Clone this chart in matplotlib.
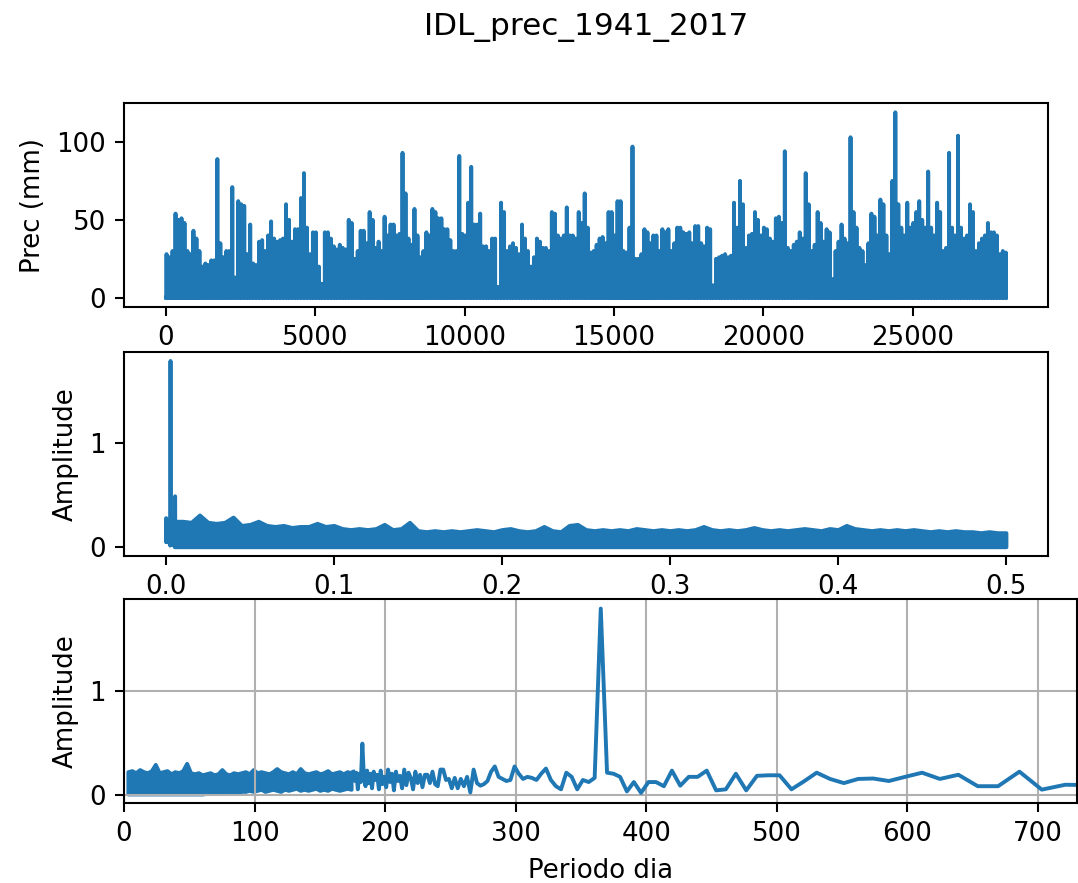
import numpy as np
import matplotlib.pyplot as plt

# daily record length (1941-01-01 .. 2017-12-31)
n_days = 28124

# highest daily rain (mm) read in each 100-day window
prec_day = np.arange(20, n_days, 100)
prec_mm = [
    28, 26, 30, 54, 50, 51, 48, 30, 28, 43,
    38, 30, 20, 22, 21, 24, 24, 89, 35, 26,
    30, 30, 71, 13, 62, 60, 59, 28, 47, 22,
    21, 36, 37, 30, 40, 49, 38, 36, 37, 38,
    60, 50, 36, 44, 44, 64, 80, 45, 28, 42,
    42, 20, 9, 42, 42, 38, 33, 31, 34, 32,
    31, 50, 48, 25, 30, 43, 43, 35, 55, 50,
    32, 36, 30, 52, 40, 47, 47, 40, 41, 93,
    67, 38, 34, 57, 40, 26, 30, 42, 40, 57,
    55, 51, 51, 44, 44, 37, 30, 30, 91, 41,
    40, 61, 84, 47, 47, 54, 33, 33, 30, 38,
    38, 7, 61, 55, 30, 33, 35, 32, 28, 47,
    38, 30, 20, 26, 38, 36, 32, 32, 30, 55,
    54, 40, 38, 40, 58, 40, 40, 38, 55, 48,
    67, 45, 29, 30, 34, 38, 39, 35, 55, 55,
    40, 62, 62, 30, 29, 45, 97, 25, 25, 28,
    44, 42, 35, 40, 40, 30, 44, 42, 44, 30,
    35, 45, 45, 42, 41, 42, 35, 46, 46, 35,
    33, 45, 44, 8, 25, 26, 27, 28, 26, 27,
    61, 45, 75, 60, 32, 40, 41, 55, 50, 40,
    45, 44, 38, 36, 51, 52, 48, 94, 32, 30,
    34, 36, 42, 38, 80, 60, 30, 34, 55, 48,
    36, 44, 42, 12, 30, 36, 47, 38, 35, 103,
    55, 45, 32, 30, 21, 35, 54, 52, 40, 63,
    60, 40, 28, 75, 119, 60, 45, 40, 61, 45,
    48, 55, 62, 50, 45, 81, 45, 40, 61, 55,
    30, 32, 93, 45, 40, 104, 45, 38, 40, 60,
    55, 30, 35, 38, 40, 48, 42, 42, 40, 28,
    30, 29,
]

# FFT amplitude of the first harmonics k = 1..160
amp_k = np.arange(1, 161)
amp_low = [
    0.10, 0.22, 0.05, 0.28, 0.12, 0.18, 0.08, 0.25, 0.15, 0.06,
    0.20, 0.10, 0.27, 0.14, 0.09, 0.22, 0.05, 0.18, 0.12, 0.26,
    0.08, 0.15, 0.20, 0.10, 0.24, 0.06, 0.17, 0.13, 0.21, 0.09,
    0.19, 0.11, 0.25, 0.07, 0.16, 0.12, 0.20, 0.09, 0.094, 0.047,
    0.22, 0.08, 0.08, 0.19, 0.15, 0.21, 0.17, 0.13, 0.154, 0.15,
    0.11, 0.15, 0.21, 0.126, 0.05, 0.185, 0.185, 0.18, 0.04, 0.20,
    0.05, 0.04, 0.23, 0.17, 0.17, 0.085, 0.23, 0.08, 0.12, 0.12,
    0.016, 0.12, 0.03, 0.17, 0.20, 0.21, 1.79, 0.16, 0.12, 0.14,
    0.05, 0.17, 0.21, 0.05, 0.08, 0.14, 0.25, 0.20, 0.14, 0.16,
    0.17, 0.15, 0.20, 0.27, 0.14, 0.13, 0.15, 0.17, 0.27, 0.22,
    0.13, 0.10, 0.085, 0.11, 0.24, 0.02, 0.17, 0.08, 0.15, 0.06,
    0.16, 0.06, 0.15, 0.14, 0.24, 0.24, 0.08, 0.10, 0.22, 0.11,
    0.19, 0.19, 0.07, 0.19, 0.11, 0.22, 0.05, 0.16, 0.21, 0.09,
    0.24, 0.06, 0.18, 0.13, 0.22, 0.04, 0.20, 0.12, 0.24, 0.07,
    0.17, 0.10, 0.23, 0.05, 0.19, 0.14, 0.22, 0.06, 0.20, 0.11,
    0.23, 0.08, 0.16, 0.49, 0.12, 0.20, 0.05, 0.21, 0.13, 0.22,
]

# dense high-frequency part: upper edge of the band (frequency axis)
fband_f = np.arange(0.005, 0.5001, 0.005)
fband_top = [
    0.25, 0.25, 0.24, 0.31, 0.24, 0.23, 0.24, 0.29, 0.21, 0.22,
    0.25, 0.21, 0.20, 0.21, 0.19, 0.20, 0.20, 0.23, 0.20, 0.21,
    0.18, 0.17, 0.18, 0.17, 0.18, 0.22, 0.17, 0.18, 0.24, 0.16,
    0.15, 0.16, 0.15, 0.16, 0.15, 0.16, 0.17, 0.16, 0.15, 0.17,
    0.18, 0.16, 0.15, 0.16, 0.20, 0.16, 0.15, 0.21, 0.22, 0.17,
    0.16, 0.17, 0.16, 0.17, 0.16, 0.18, 0.17, 0.16, 0.17, 0.16,
    0.17, 0.16, 0.17, 0.20, 0.17, 0.16, 0.17, 0.16, 0.17, 0.19,
    0.17, 0.16, 0.17, 0.16, 0.17, 0.18, 0.17, 0.16, 0.18, 0.17,
    0.21, 0.18, 0.17, 0.16, 0.17, 0.16, 0.17, 0.16, 0.17, 0.16,
    0.15, 0.16, 0.15, 0.16, 0.15, 0.15, 0.14, 0.15, 0.14, 0.14,
]
band_floor = 0.005

# same band seen on the period axis (days)
pband_p = np.arange(3, 177, 3)
pband_top = [
    0.22, 0.23, 0.21, 0.24, 0.22, 0.21, 0.23, 0.29, 0.21, 0.22,
    0.23, 0.20, 0.22, 0.21, 0.23, 0.30, 0.21, 0.20, 0.21, 0.19,
    0.20, 0.21, 0.19, 0.20, 0.24, 0.20, 0.19, 0.21, 0.20, 0.21,
    0.22, 0.20, 0.24, 0.21, 0.22, 0.21, 0.20, 0.22, 0.25, 0.22,
    0.21, 0.20, 0.22, 0.20, 0.25, 0.21, 0.20, 0.21, 0.22, 0.20,
    0.21, 0.23, 0.20, 0.21, 0.22, 0.20, 0.22, 0.21,
]
pband_bot = [
    0.005, 0.005, 0.005, 0.005, 0.005, 0.005, 0.005, 0.005, 0.005, 0.005,
    0.005, 0.005, 0.005, 0.005, 0.005, 0.005, 0.005, 0.005, 0.005, 0.005,
    0.01, 0.01, 0.02, 0.01, 0.02, 0.03, 0.02, 0.03, 0.02, 0.03,
    0.03, 0.04, 0.03, 0.04, 0.05, 0.03, 0.04, 0.05, 0.04, 0.03,
    0.05, 0.04, 0.05, 0.06, 0.04, 0.05, 0.04, 0.05, 0.06, 0.04,
    0.05, 0.04, 0.06, 0.05, 0.04, 0.05, 0.06, 0.05,
]

c = "#1f77b4"
dpi = 187
fig = plt.figure(figsize=(1078 / dpi, 883 / dpi), dpi=dpi)
fig.suptitle("IDL_prec_1941_2017", fontsize=12, x=0.5436, y=0.985)

prec = np.zeros(n_days)
prec[prec_day] = prec_mm

ax1 = fig.add_axes([0.1150, 0.6523, 0.8571, 0.2310])
ax1.plot(np.arange(n_days), prec, color=c, lw=1.5)
ax1.set_ylabel("Prec (mm)")
ax1.set_xticks([0, 5000, 10000, 15000, 20000, 25000])
ax1.set_yticks([0, 50, 100])

freq_low = amp_k / n_days
ax2 = fig.add_axes([0.1150, 0.3703, 0.8571, 0.2314])
ax2.plot(freq_low, amp_low, color=c)
ax2.fill_between(fband_f, band_floor, fband_top, facecolor=c, edgecolor=c, linewidth=1.5)
ax2.set_ylabel("Amplitude")
ax2.set_yticks([0, 1])

ax3 = fig.add_axes([0.1150, 0.0903, 0.8840, 0.2310])
ax3.plot(n_days / amp_k, amp_low, color=c)
ax3.fill_between(pband_p, pband_bot, pband_top, facecolor=c, edgecolor=c, linewidth=1.5)
ax3.set_xlim(0, 730)
ax3.set_ylim(ax2.get_ylim())
ax3.set_yticks([0, 1])
ax3.grid(True)
ax3.set_xlabel("Periodo dia")
ax3.set_ylabel("Amplitude")

fig.savefig("out.png", dpi=dpi)
